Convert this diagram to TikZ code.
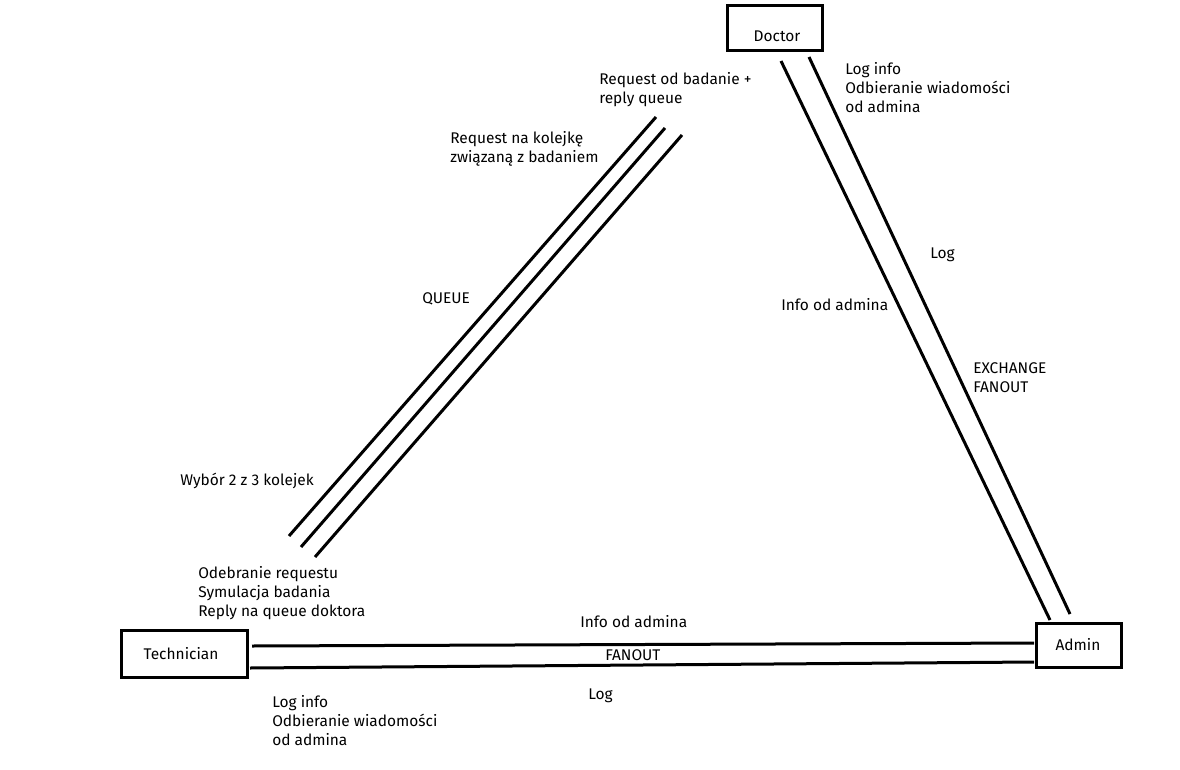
\documentclass[tikz,border=0pt]{standalone}
\usepackage{fontspec}
\setmainfont{Fira Sans}
\begin{document}
\begin{tikzpicture}[x=0.75pt,y=-0.75pt,
  box/.style={draw, line width=2.25pt, inner sep=0pt},
  conn/.style={line width=2.25pt},
  txt/.style={inner sep=0pt, font=\fontsize{11.6}{14.25}\selectfont},
  lbl/.style={txt, anchor=west, align=left}]
\useasboundingbox (0,0) rectangle (1180,770);
% boxes
\node[box, minimum width=71.25pt, minimum height=33.75pt] (doc) at (774.5,28.5) {};
\node[txt] (doctxt) at (777,36) {Doctor};
\node[box, minimum width=94.5pt, minimum height=35.25pt] (tech) at (184,653.5) {};
\node[txt] (techtxt) at (181,654) {Technician};
\node[box, minimum width=63.75pt, minimum height=33pt] (adm) at (1078.5,645) {};
\node[txt] (admtxt) at (1078,645) {Admin};
% connector ends
\coordinate (d1) at (781,61);
\coordinate (d2) at (809,57);
\coordinate (a1) at (1050,620);
\coordinate (a2) at (1070,614);
\coordinate (a3) at (1034,643);
\coordinate (a4) at (1034,662);
\coordinate (t1) at (252,646);
\coordinate (t2) at (250,668);
\coordinate (q1s) at (289,536);
\coordinate (q1e) at (656,117);
\coordinate (q2s) at (301,547);
\coordinate (q2e) at (665,128);
\coordinate (q3s) at (315,557);
\coordinate (q3e) at (682,135);
% connectors
\draw[conn] (d1) -- (a1);
\draw[conn] (d2) -- (a2);
\draw[conn] (t1) -- (a3);
\draw[conn] (t2) -- (a4);
\draw[conn] (q1s) -- (q1e);
\draw[conn] (q2s) -- (q2e);
\draw[conn] (q3s) -- (q3e);
% labels
\node[lbl] (l1) at (845,88) {Log info\\Odbieranie wiadomości\\od admina};
\node[lbl] (l2) at (599,90) {Request od badanie +\\reply queue};
\node[lbl] (l3) at (450,148.5) {Request na kolejkę\\związaną z badaniem};
\node[lbl] (l4) at (930,255) {Log};
\node[lbl] (l5) at (781,305) {Info od admina};
\node[lbl] (l6) at (422,299) {QUEUE};
\node[lbl] (l7) at (973,377.5) {EXCHANGE\\FANOUT};
\node[lbl] (l8) at (180,481) {Wybór 2 z 3 kolejek};
\node[lbl] (l9) at (198,593.5) {Odebranie requestu\\Symulacja badania\\Reply na queue doktora};
\node[lbl] (l10) at (580,622) {Info od admina};
\node[lbl] (l11) at (605,655) {FANOUT};
\node[lbl] (l12) at (588,696) {Log};
\node[lbl] (l13) at (272,720.5) {Log info\\Odbieranie wiadomości\\od admina};
\end{tikzpicture}
\end{document}
